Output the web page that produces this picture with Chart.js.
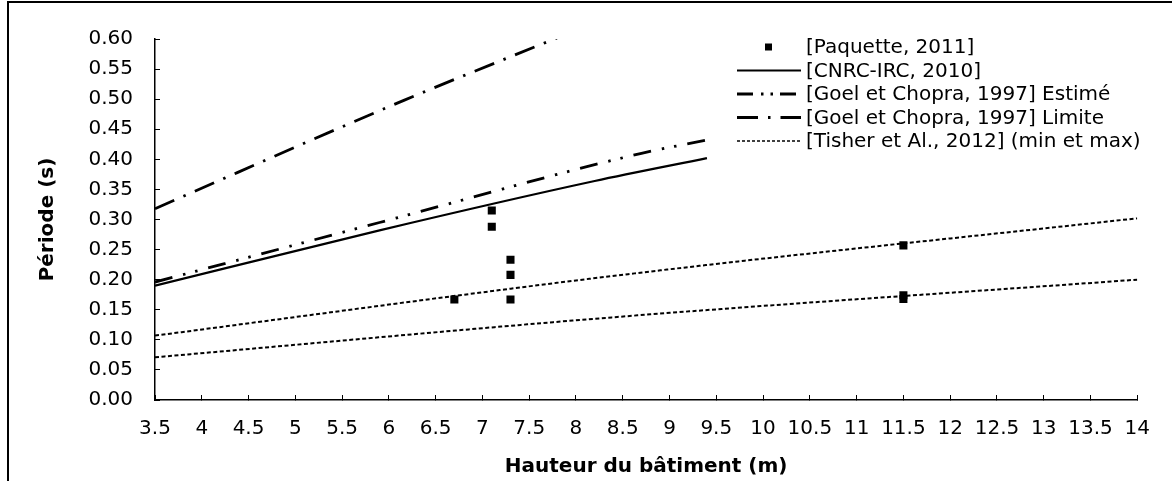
<!DOCTYPE html>
<html>
<head>
<meta charset="utf-8">
<script src="https://cdn.jsdelivr.net/npm/chart.js@4/dist/chart.umd.min.js"></script>
<style>
    body { margin: 0; background: #fff; }
    canvas { display: block; }
</style>
</head>
<body>
<canvas id="periodChart" width="1172" height="481"></canvas>
<script>
// 轴刻度
const xTicks = [3.5, 4, 4.5, 5, 5.5, 6, 6.5, 7, 7.5, 8, 8.5, 9, 9.5, 10, 10.5, 11, 11.5, 12, 12.5, 13, 13.5, 14];
const yTicks = [0, 0.05, 0.1, 0.15, 0.2, 0.25, 0.3, 0.35, 0.4, 0.45, 0.5, 0.55, 0.6];

// [Paquette, 2011] 测量点
const paquetteX = [6.7, 7.1, 7.1, 7.3, 7.3, 7.3, 11.5, 11.5, 11.5];
const paquetteY = [0.167, 0.315, 0.288, 0.233, 0.208, 0.167, 0.257, 0.174, 0.168];

// [CNRC-IRC, 2010]
const cnrcX = [3.5, 5.9, 8.2, 9.4];
const cnrcY = [0.19, 0.282, 0.364, 0.402];

// [Goel et Chopra, 1997] Estimé
const goelEstX = [3.5, 5.9, 8.7, 9.4];
const goelEstY = [0.196, 0.295, 0.410, 0.432];

// [Goel et Chopra, 1997] Limite
const goelLimX = [3.5, 6.16, 7.8];
const goelLimY = [0.318, 0.498, 0.602];

// [Tisher et Al., 2012] min / max
const tisherX = [3.5, 8.44, 14];
const tisherMin = [0.071, 0.138, 0.200];
const tisherMax = [0.107, 0.207, 0.302];

const FONT = "'DejaVu Sans', sans-serif";

function pts(xs, ys) {
    return xs.map((x, i) => ({ x: x, y: ys[i] }));
}

function lineSet(label, xs, ys, width, dash) {
    return {
        type: 'line',
        label: label,
        data: pts(xs, ys),
        borderColor: '#000',
        borderWidth: width,
        borderDash: dash,
        pointRadius: 0,
        fill: false,
        cubicInterpolationMode: 'monotone'
    };
}

const datasets = [
    lineSet('[CNRC-IRC, 2010]', cnrcX, cnrcY, 2.2, []),
    lineSet('[Goel et Chopra, 1997] Estimé', goelEstX, goelEstY, 2.8, [18, 11, 2.5, 10, 2.5, 11]),
    lineSet('[Goel et Chopra, 1997] Limite', goelLimX, goelLimY, 2.8, [21, 10, 2.5, 10]),
    lineSet('[Tisher et Al., 2012] (min et max)', tisherX, tisherMax, 2, [4, 2.5]),
    lineSet('tisher-min', tisherX, tisherMin, 2, [4, 2.5]),
    {
        type: 'scatter',
        label: '[Paquette, 2011]',
        data: pts(paquetteX, paquetteY),
        pointStyle: 'rect',
        pointRadius: 5.7,
        backgroundColor: '#000',
        borderColor: '#000',
        borderWidth: 0
    }
];

// 图例条目（顺序与原图一致）
const legendItems = [
    { label: '[Paquette, 2011]', marker: true },
    { label: '[CNRC-IRC, 2010]', width: 2, dash: [] },
    { label: '[Goel et Chopra, 1997] Estimé', width: 2.8, dash: [16, 8, 2.5, 7, 2.5, 7] },
    { label: '[Goel et Chopra, 1997] Limite', width: 2.8, dash: [21, 10, 2.5, 10] },
    { label: '[Tisher et Al., 2012] (min et max)', width: 1.6, dash: [3, 2] }
];

const legendPlugin = {
    id: 'cornerLegend',
    afterDraw(chart) {
        const ctx = chart.ctx;
        ctx.save();
        ctx.font = '20px ' + FONT;
        ctx.fillStyle = '#000';
        ctx.strokeStyle = '#000';
        ctx.textBaseline = 'middle';
        ctx.textAlign = 'left';
        legendItems.forEach((item, i) => {
            const y = 47 + i * 23.5;
            if (item.marker) {
                ctx.fillRect(765, y - 3.5, 7, 7);
            } else {
                ctx.beginPath();
                ctx.setLineDash(item.dash);
                ctx.lineWidth = item.width;
                ctx.moveTo(737, y);
                ctx.lineTo(801, y);
                ctx.stroke();
            }
            ctx.fillText(item.label, 806, y + 1);
        });
        ctx.setLineDash([]);
        // 外框
        ctx.lineWidth = 2;
        ctx.beginPath();
        ctx.moveTo(8, 481);
        ctx.lineTo(8, 2);
        ctx.lineTo(1172, 2);
        ctx.stroke();
        ctx.restore();
    }
};

new Chart(document.getElementById('periodChart'), {
    data: { datasets: datasets },
    plugins: [legendPlugin],
    options: {
        responsive: false,
        animation: false,
        devicePixelRatio: 1,
        layout: { padding: { top: 38, right: 23, bottom: 0, left: 0 } },
        plugins: {
            legend: { display: false },
            tooltip: { enabled: false }
        },
        scales: {
            x: {
                type: 'linear',
                min: 3.5,
                max: 14,
                afterBuildTicks: s => { s.ticks = xTicks.map(v => ({ value: v })); },
                afterFit: s => { s.height = 81; },
                ticks: {
                    callback: v => String(v),
                    font: { family: FONT, size: 20 },
                    color: '#000',
                    padding: 22,
                    maxRotation: 0,
                    autoSkip: false
                },
                grid: { drawOnChartArea: false, tickLength: -5, color: '#000', lineWidth: 1 },
                border: { display: true, color: '#000', width: 1.5 },
                title: {
                    display: true,
                    text: 'Hauteur du bâtiment (m)',
                    font: { family: FONT, size: 20, weight: 'bold' },
                    color: '#000',
                    padding: { top: 0, bottom: 2 }
                }
            },
            y: {
                type: 'linear',
                min: 0,
                max: 0.6,
                afterBuildTicks: s => { s.ticks = yTicks.map(v => ({ value: v })); },
                afterFit: s => { s.width = 155; },
                ticks: {
                    callback: v => v.toFixed(2),
                    font: { family: FONT, size: 20 },
                    color: '#000',
                    padding: 27
                },
                grid: { drawOnChartArea: false, tickLength: -5, color: '#000', lineWidth: 1 },
                border: { display: true, color: '#000', width: 1.5 },
                title: {
                    display: true,
                    text: 'Période (s)',
                    font: { family: FONT, size: 20, weight: 'bold' },
                    color: '#000',
                    padding: { top: 36, bottom: 0 }
                }
            }
        }
    }
});
</script>
</body>
</html>
